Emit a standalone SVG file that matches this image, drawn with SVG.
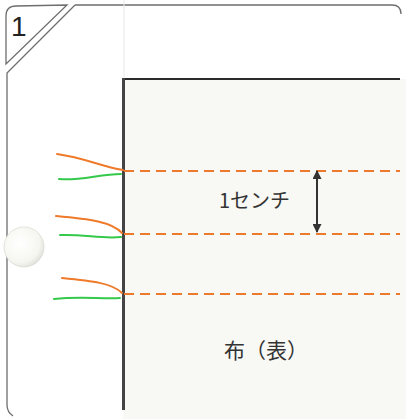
<svg xmlns="http://www.w3.org/2000/svg" width="406" height="419" viewBox="0 0 406 419">
<defs>
<style>
.frame{fill:none;stroke:#6e6e6e;stroke-width:1.3}
.stitch{fill:none;stroke:#ec7a2d;stroke-width:2.2;stroke-dasharray:10 6}
.orange{fill:none;stroke:#ee7a2a;stroke-width:2;stroke-linecap:round}
.green{fill:none;stroke:#34c94a;stroke-width:2;stroke-linecap:round}
.lbl{font-family:"Noto Sans CJK JP","Noto Sans",sans-serif;fill:#333}
</style>
<marker id="ah" viewBox="0 0 10 10" refX="9" refY="5" markerWidth="14" markerHeight="9" orient="auto-start-reverse" markerUnits="userSpaceOnUse">
<path d="M0,0 L10,5 L0,10 z" fill="#333"/>
</marker>
<radialGradient id="ball" cx="0.4" cy="0.4" r="0.7">
<stop offset="0" stop-color="#ffffff"/>
<stop offset="0.7" stop-color="#f6f6f0"/>
<stop offset="1" stop-color="#d8d8d2"/>
</radialGradient>
</defs>
<rect width="406" height="419" fill="#ffffff"/>
<g id="frame">
<path class="frame" d="M6,64 L6,16 Q6,6 16,6 L67,5 Z"/>
<path class="frame" d="M75,5 L392,5 Q401,5 401,14"/>
<path class="frame" d="M75,5 L7,73 L7,405 Q7,412 13,416"/>
<text x="11" y="36" font-family="Liberation Sans, sans-serif" font-size="28" fill="#222">1</text>
</g>
<line x1="124" y1="0" x2="124" y2="78" stroke="#e8e8e4" stroke-width="1"/>
<g id="fabric">
<rect x="123" y="79" width="283" height="340" fill="#f8f8f4"/>
<line x1="122" y1="79" x2="400" y2="79" stroke="#2a2a2a" stroke-width="2.2"/>
<line x1="123.5" y1="78" x2="123.5" y2="410" stroke="#444" stroke-width="3"/>
<text class="lbl" x="224" y="358" font-size="21">布（表）</text>
</g>
<g id="ball-node">
<circle cx="24" cy="247" r="20" fill="url(#ball)" stroke="#dcdcd4" stroke-width="0.8"/>
</g>
<g id="connectors">
<line class="stitch" x1="124" y1="171" x2="400" y2="171"/>
<line class="stitch" x1="124" y1="234" x2="400" y2="234"/>
<line class="stitch" x1="124" y1="294" x2="400" y2="294"/>
<path class="orange" d="M57,154 C85,158 100,166 123,170"/>
<path class="green" d="M59,179 C80,181 100,174 121,174"/>
<path class="orange" d="M56,216 C90,219 112,222 122,233"/>
<path class="green" d="M60,235 C85,234 100,239 121,237"/>
<path class="orange" d="M62,278 C92,281 112,283 122,293"/>
<path class="green" d="M54,299 C80,296 100,299 120,298"/>
<line x1="317" y1="171" x2="317" y2="232" stroke="#333" stroke-width="2" marker-start="url(#ah)" marker-end="url(#ah)"/>
</g>
<g id="label">
<text class="lbl" x="219" y="208" font-size="20">1センチ</text>
</g>
</svg>
